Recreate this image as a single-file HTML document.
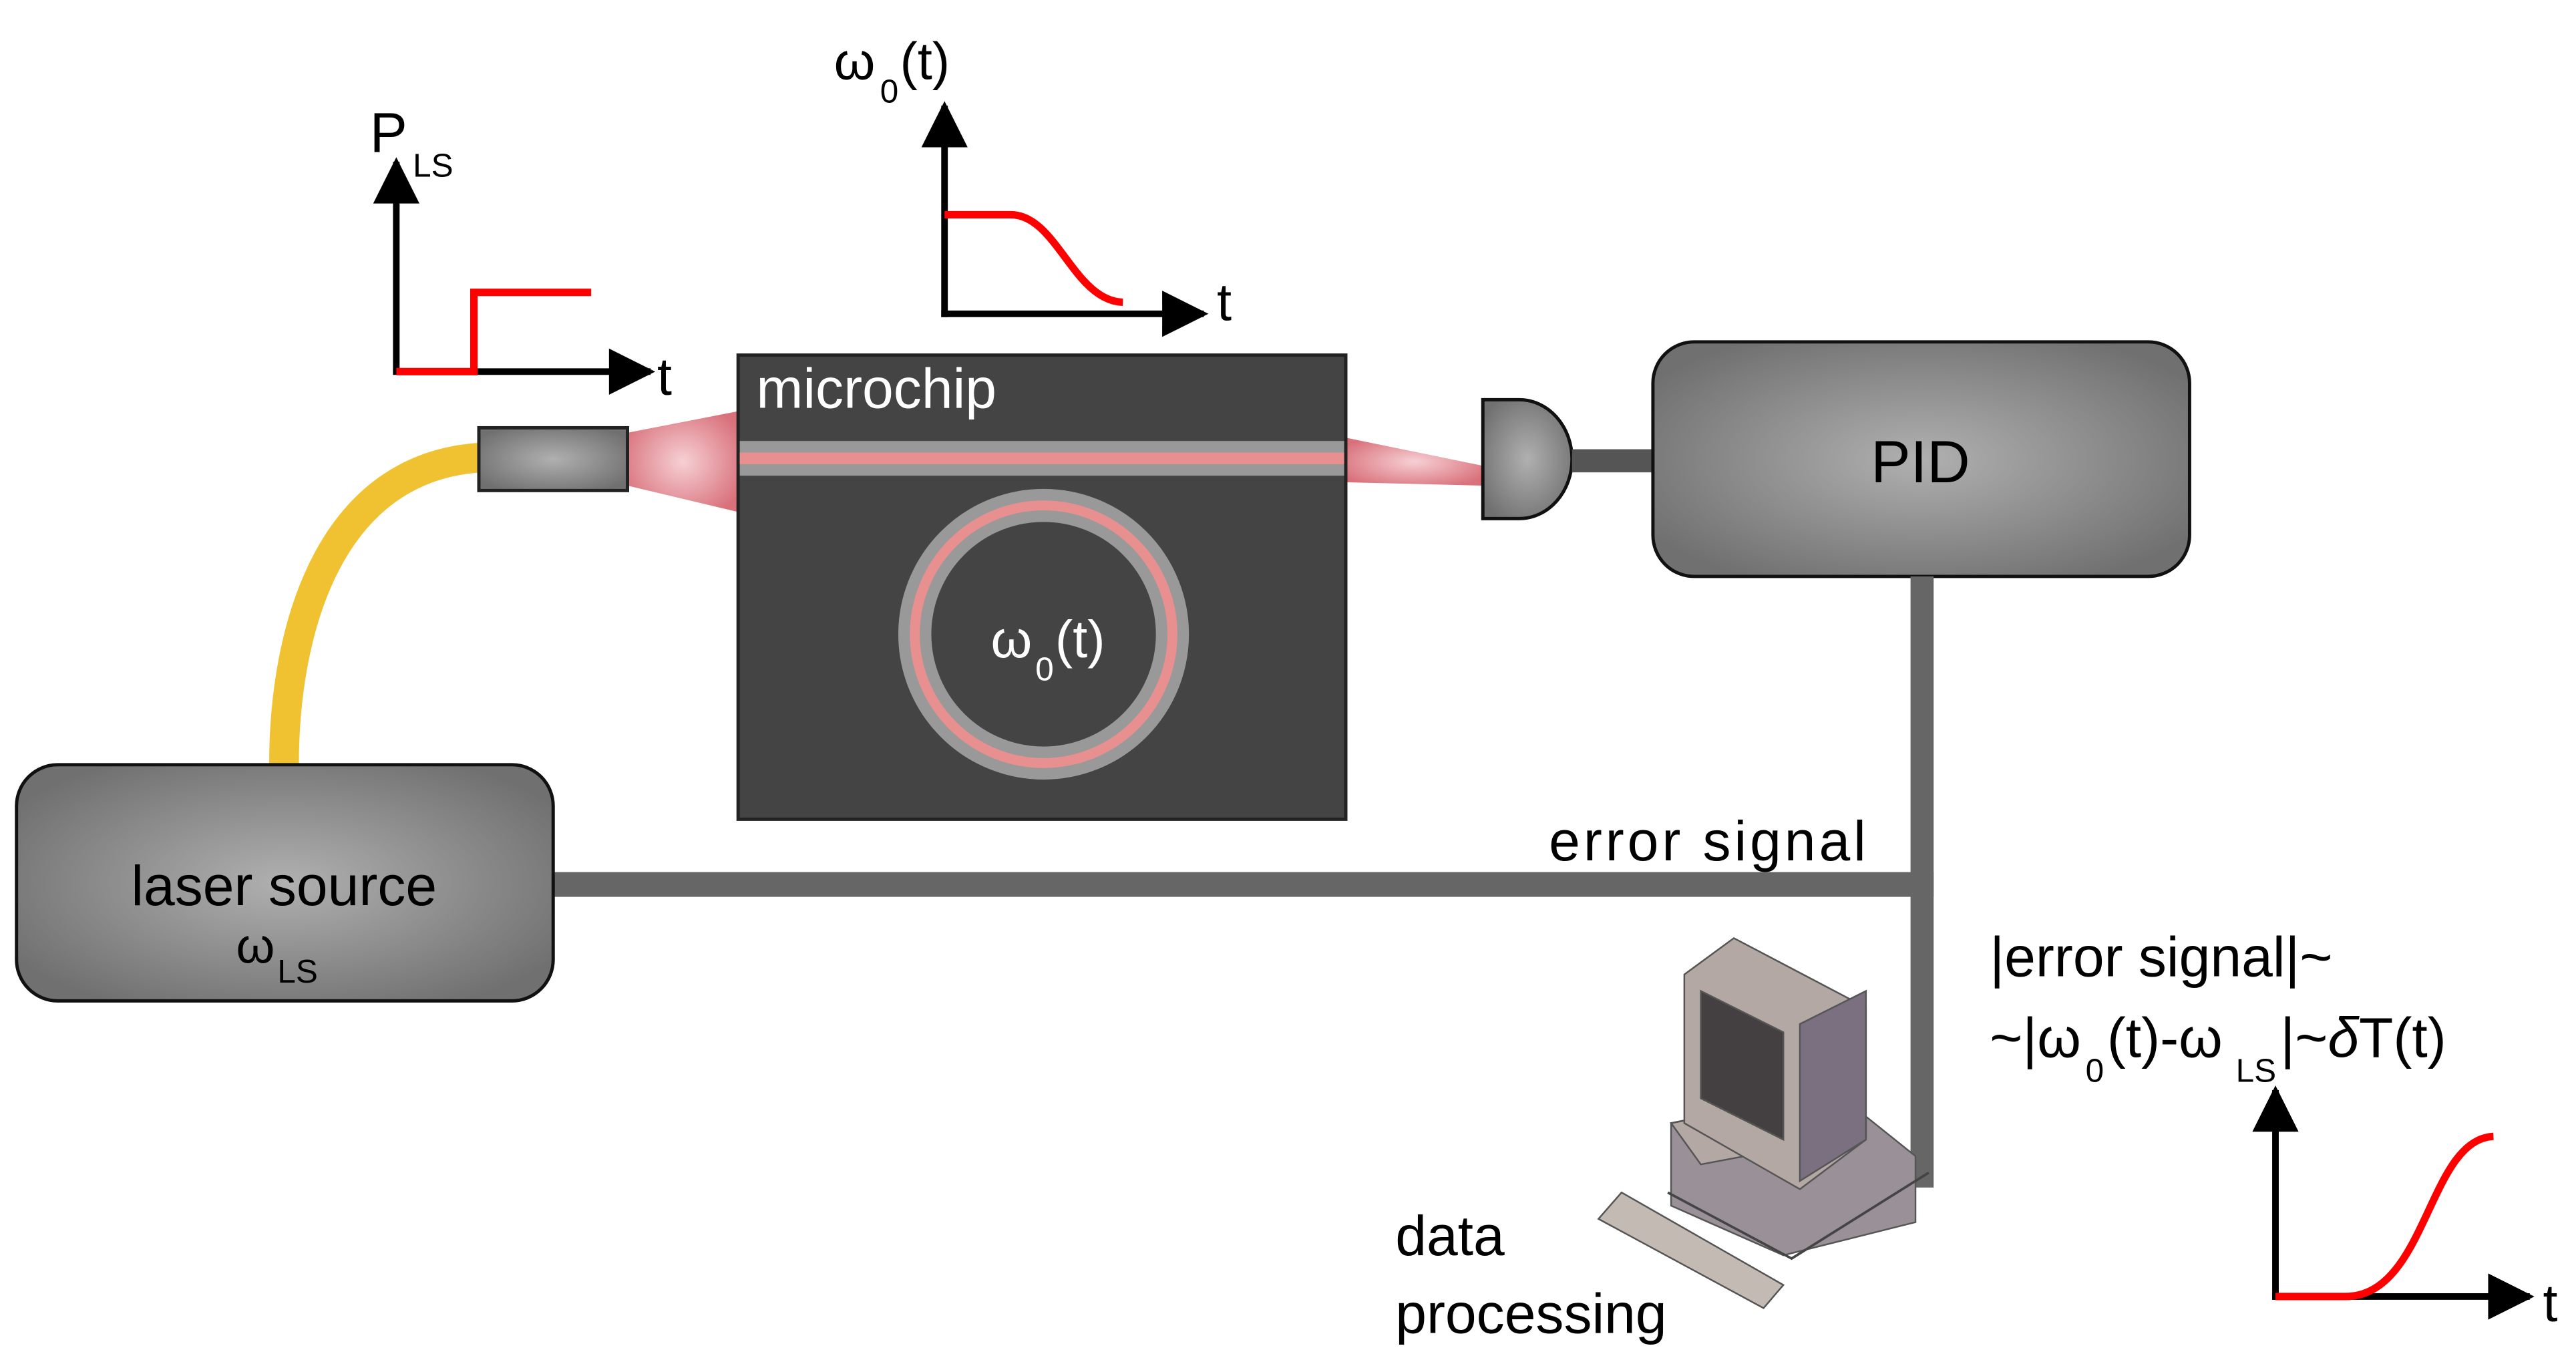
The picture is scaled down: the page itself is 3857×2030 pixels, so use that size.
<!DOCTYPE html>
<html><head><meta charset="utf-8"><style>html,body{margin:0;padding:0;background:#fff}svg{display:block}</style></head>
<body>
<svg width="3857" height="2030" viewBox="0 0 1560 821" preserveAspectRatio="none" xmlns="http://www.w3.org/2000/svg" font-family="Liberation Sans, Arial, sans-serif">
<defs>
<radialGradient id="g" cx="50%" cy="50%" r="60%"><stop offset="0" stop-color="#b0b0b0"/><stop offset="1" stop-color="#707070"/></radialGradient>
<radialGradient id="pk" cx="50%" cy="50%" r="60%"><stop offset="0" stop-color="#f6d0d4"/><stop offset="1" stop-color="#d9707a"/></radialGradient>
<marker id="ar" viewBox="0 0 10 10" refX="9" refY="5" markerWidth="8" markerHeight="7" orient="auto"><path d="M0,0L10,5L0,10z" fill="#000"/></marker>
</defs>
<!-- P_LS graph -->
<g stroke="#000" stroke-width="4" fill="none">
<path d="M240,226V98" marker-end="url(#ar)"/>
<path d="M238,225H394" marker-end="url(#ar)"/>
</g>
<path d="M240,225H287V177H358" stroke="#f00" stroke-width="4.5" fill="none"/>
<text x="224" y="92" font-size="34">P</text><text x="250" y="107" font-size="20">LS</text>
<text x="398" y="239" font-size="32">t</text>
<!-- omega graph -->
<g stroke="#000" stroke-width="4" fill="none">
<path d="M572,192V64" marker-end="url(#ar)"/>
<path d="M570,190H729" marker-end="url(#ar)"/>
</g>
<path d="M572,130H612C640,130 650,182 680,183" stroke="#f00" stroke-width="4.5" fill="none"/>
<text x="505" y="48" font-size="32">ω</text><text x="533" y="62" font-size="20">0</text><text x="545" y="48" font-size="32">(t)</text>
<text x="737" y="194" font-size="32">t</text>
<!-- fiber -->
<path d="M172,463C172,380 200,282 292,277" stroke="#f0c232" stroke-width="18" fill="none"/>
<!-- beams -->
<polygon points="380,262 447,249 447,310 380,294" fill="url(#pk)"/>
<polygon points="815,265 898,282 898,294 815,292" fill="url(#pk)"/>
<!-- connector -->
<rect x="290" y="259" width="90" height="38" fill="url(#g)" stroke="#222" stroke-width="2"/>
<!-- chip -->
<rect x="447" y="215" width="368" height="281" fill="#444" stroke="#222" stroke-width="2"/>
<rect x="448" y="267" width="366" height="21" fill="#999"/>
<rect x="448" y="274" width="366" height="7" fill="#e89090"/>
<text x="458" y="247" font-size="34" fill="#fff">microchip</text>
<circle cx="632" cy="384" r="78" fill="none" stroke="#999" stroke-width="20"/>
<circle cx="632" cy="384" r="78" fill="none" stroke="#e89090" stroke-width="6"/>
<text x="600" y="398" font-size="32" fill="#fff">ω</text><text x="627" y="412" font-size="20" fill="#fff">0</text><text x="639" y="398" font-size="32" fill="#fff">(t)</text>
<!-- detector -->
<path d="M898,242H920A32,36 0 0 1 920,314H898Z" fill="url(#g)" stroke="#111" stroke-width="2"/>
<rect x="952" y="272" width="50" height="14" fill="#555"/>
<!-- PID -->
<rect x="1001" y="207" width="325" height="142" rx="25" fill="url(#g)" stroke="#111" stroke-width="2"/>
<text x="1163" y="292" font-size="36" text-anchor="middle">PID</text>
<!-- lines -->
<rect x="1157" y="349" width="14" height="370" fill="#666"/>
<rect x="335" y="528" width="836" height="15" fill="#666"/>
<text x="938" y="521" font-size="34" textLength="192">error signal</text>
<!-- laser -->
<rect x="10" y="463" width="325" height="143" rx="25" fill="url(#g)" stroke="#111" stroke-width="2"/>
<text x="172" y="548" font-size="34" text-anchor="middle">laser source</text>
<text x="143" y="583" font-size="30">ω</text><text x="168" y="595" font-size="20">LS</text>
<!-- computer -->
<g stroke="#555" stroke-width="1">
<polygon points="1012,680 1110,660 1160,700 1160,740 1080,760 1012,730" fill="#9a9098"/>
<polygon points="1012,680 1090,665 1110,690 1030,705" fill="#b4a8a4"/>
<polygon points="1020,590 1050,568 1130,610 1130,690 1090,720 1020,680" fill="#b4a8a4"/>
<polygon points="1030,600 1080,625 1080,690 1030,665" fill="#443f40"/>
<polygon points="1090,620 1130,600 1130,690 1090,715" fill="#7a7080"/>
<polygon points="968,738 982,722 1080,778 1068,792" fill="#c4bab4"/>
</g>
<path d="M1010,722L1085,762L1168,710" stroke="#444" stroke-width="1.5" fill="none"/>
<text x="845" y="760" font-size="34">data</text>
<text x="845" y="807" font-size="34">processing</text>
<!-- error formula -->
<text x="1205" y="591" font-size="34">|error signal|~</text>
<text x="1205" y="640" font-size="34">~|ω</text><text x="1263" y="655" font-size="20">0</text><text x="1276" y="640" font-size="34">(t)-ω</text><text x="1354" y="655" font-size="20">LS</text><text x="1381" y="640" font-size="34">|~<tspan font-style="italic">δ</tspan>T(t)</text>
<!-- third graph -->
<g stroke="#000" stroke-width="4" fill="none">
<path d="M1378,787V660" marker-end="url(#ar)"/>
<path d="M1376,785H1532" marker-end="url(#ar)"/>
</g>
<path d="M1378,785H1420C1470,785 1470,690 1510,688" stroke="#f00" stroke-width="4.5" fill="none"/>
<text x="1540" y="800" font-size="32">t</text>
</svg>
</body></html>
